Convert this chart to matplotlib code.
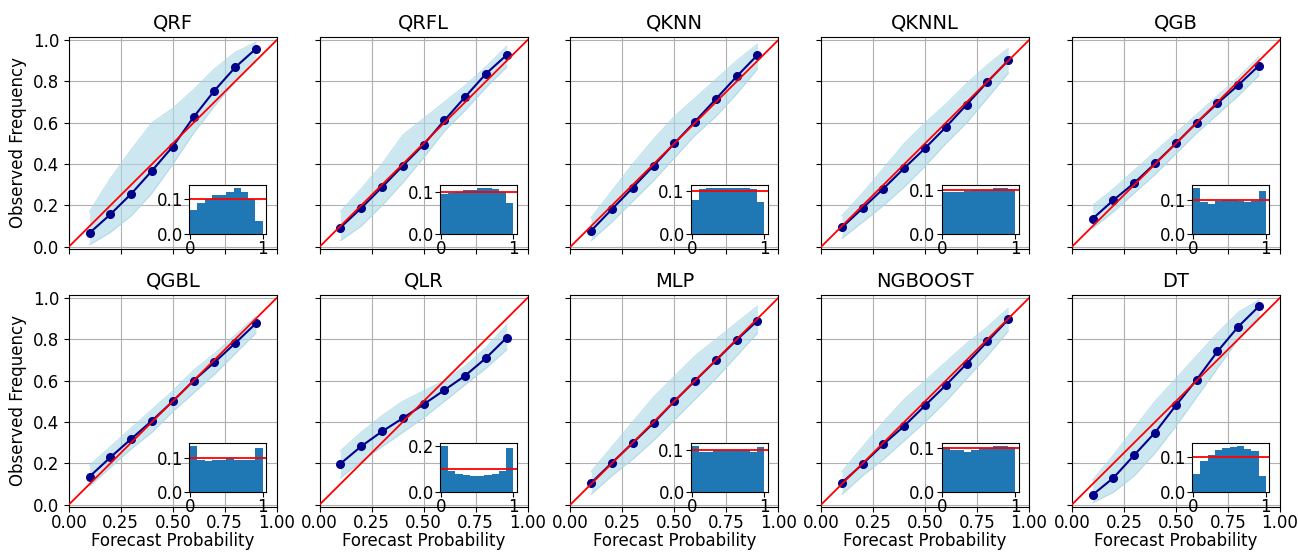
import numpy as np
import matplotlib
matplotlib.use("Agg")
import matplotlib.pyplot as plt

# modelos e probabilidades previstas (centro dos bins)
modelos = ["QRF", "QRFL", "QKNN", "QKNNL", "QGB",
           "QGBL", "QLR", "MLP", "NGBOOST", "DT"]
prob_prevista = [0.1, 0.2, 0.3, 0.4, 0.5, 0.6, 0.7, 0.8, 0.9]

# frequencia observada media (linha azul escura)
freq_obs = {
    "QRF":     [0.067, 0.157, 0.256, 0.368, 0.485, 0.627, 0.755, 0.868, 0.958],
    "QRFL":    [0.093, 0.187, 0.288, 0.392, 0.494, 0.611, 0.725, 0.837, 0.928],
    "QKNN":    [0.078, 0.182, 0.286, 0.392, 0.500, 0.606, 0.715, 0.824, 0.928],
    "QKNNL":   [0.094, 0.187, 0.282, 0.381, 0.477, 0.579, 0.688, 0.798, 0.902],
    "QGB":     [0.136, 0.226, 0.309, 0.403, 0.500, 0.600, 0.694, 0.782, 0.877],
    "QGBL":    [0.136, 0.229, 0.318, 0.406, 0.500, 0.600, 0.688, 0.781, 0.877],
    "QLR":     [0.198, 0.282, 0.354, 0.418, 0.485, 0.554, 0.624, 0.709, 0.808],
    "MLP":     [0.105, 0.203, 0.298, 0.395, 0.500, 0.600, 0.698, 0.797, 0.890],
    "NGBOOST": [0.106, 0.197, 0.293, 0.381, 0.480, 0.578, 0.682, 0.790, 0.896],
    "DT":      [0.048, 0.130, 0.240, 0.349, 0.480, 0.605, 0.741, 0.861, 0.960],
}

# limites do feixe de curvas individuais (azul claro)
faixa_sup = {
    "QRF":     [0.17, 0.33, 0.47, 0.60, 0.67, 0.76, 0.86, 0.94, 0.99],
    "QRFL":    [0.17, 0.28, 0.40, 0.54, 0.62, 0.70, 0.78, 0.87, 0.97],
    "QKNN":    [0.14, 0.27, 0.40, 0.52, 0.63, 0.72, 0.81, 0.90, 0.98],
    "QKNNL":   [0.15, 0.26, 0.38, 0.50, 0.60, 0.69, 0.79, 0.88, 0.96],
    "QGB":     [0.20, 0.28, 0.37, 0.46, 0.55, 0.64, 0.73, 0.82, 0.92],
    "QGBL":    [0.19, 0.28, 0.37, 0.46, 0.55, 0.65, 0.73, 0.82, 0.91],
    "QLR":     [0.26, 0.35, 0.43, 0.50, 0.55, 0.60, 0.67, 0.76, 0.87],
    "MLP":     [0.16, 0.28, 0.40, 0.52, 0.62, 0.72, 0.80, 0.88, 0.96],
    "NGBOOST": [0.16, 0.28, 0.40, 0.51, 0.60, 0.69, 0.78, 0.86, 0.95],
    "DT":      [0.12, 0.24, 0.37, 0.50, 0.61, 0.72, 0.83, 0.93, 0.99],
}
faixa_inf = {
    "QRF":     [0.01, 0.07, 0.15, 0.26, 0.40, 0.55, 0.68, 0.80, 0.90],
    "QRFL":    [0.03, 0.10, 0.20, 0.31, 0.43, 0.56, 0.66, 0.77, 0.87],
    "QKNN":    [0.03, 0.12, 0.22, 0.32, 0.43, 0.54, 0.63, 0.74, 0.86],
    "QKNNL":   [0.04, 0.12, 0.20, 0.29, 0.39, 0.50, 0.60, 0.72, 0.84],
    "QGB":     [0.09, 0.17, 0.26, 0.35, 0.45, 0.55, 0.64, 0.73, 0.83],
    "QGBL":    [0.09, 0.18, 0.27, 0.35, 0.45, 0.54, 0.63, 0.73, 0.83],
    "QLR":     [0.13, 0.21, 0.28, 0.35, 0.42, 0.50, 0.58, 0.66, 0.75],
    "MLP":     [0.05, 0.14, 0.22, 0.31, 0.41, 0.51, 0.61, 0.72, 0.83],
    "NGBOOST": [0.05, 0.14, 0.22, 0.31, 0.40, 0.50, 0.61, 0.72, 0.84],
    "DT":      [0.01, 0.06, 0.14, 0.25, 0.38, 0.52, 0.66, 0.80, 0.91],
}

# histogramas PIT (10 bins, frequencia relativa)
hist_pit = {
    "QRF":     [0.069, 0.088, 0.100, 0.111, 0.111, 0.119, 0.130, 0.119, 0.100, 0.038],
    "QRFL":    [0.095, 0.097, 0.100, 0.105, 0.105, 0.110, 0.110, 0.108, 0.100, 0.075],
    "QKNN":    [0.080, 0.105, 0.106, 0.107, 0.107, 0.107, 0.107, 0.106, 0.105, 0.075],
    "QKNNL":   [0.097, 0.097, 0.095, 0.098, 0.100, 0.100, 0.100, 0.105, 0.105, 0.103],
    "QGB":     [0.135, 0.095, 0.088, 0.097, 0.100, 0.100, 0.097, 0.093, 0.097, 0.127],
    "QGBL":    [0.135, 0.095, 0.090, 0.093, 0.095, 0.100, 0.095, 0.095, 0.095, 0.130],
    "QLR":     [0.200, 0.090, 0.079, 0.072, 0.069, 0.069, 0.072, 0.079, 0.090, 0.193],
    "MLP":     [0.110, 0.095, 0.095, 0.100, 0.100, 0.100, 0.100, 0.100, 0.095, 0.107],
    "NGBOOST": [0.103, 0.095, 0.095, 0.092, 0.095, 0.100, 0.100, 0.105, 0.105, 0.103],
    "DT":      [0.050, 0.088, 0.107, 0.120, 0.127, 0.130, 0.132, 0.123, 0.118, 0.045],
}
bordas_bins = np.linspace(0, 1, 11)

plt.rcParams['font.size'] = 12

fig, axes = plt.subplots(2, 5, figsize=(12.98, 5.52), dpi=100, sharex=True, sharey=True)
fig.subplots_adjust(left=0.053, right=0.986, top=0.933, bottom=0.082, wspace=0.206, hspace=0.217)

for ax, nome in zip(axes.flat, modelos):
    # feixe de curvas individuais
    ax.fill_between(prob_prevista, faixa_inf[nome], faixa_sup[nome],
                    color='lightblue', alpha=0.6, linewidth=0, zorder=2)
    ax.plot(prob_prevista, faixa_sup[nome], color='lightblue', alpha=0.8, lw=0.8, zorder=2)
    ax.plot(prob_prevista, faixa_inf[nome], color='lightblue', alpha=0.8, lw=0.8, zorder=2)
    # curva media
    ax.plot(prob_prevista, freq_obs[nome], color='darkblue', marker='o', markersize=5.5,
            lw=1.5, zorder=3)
    # diagonal perfeita
    ax.plot([0, 1], [0, 1], color='red', lw=1.3, zorder=4)
    ax.set_xlim(0, 1)
    ax.set_ylim(-0.01, 1.015)
    ax.set_xticks([0, 0.25, 0.5, 0.75, 1.0])
    ax.set_yticks([0, 0.2, 0.4, 0.6, 0.8, 1.0])
    ax.grid(True, color='#b0b0b0', lw=0.8)
    ax.set_axisbelow(True)
    ax.set_title(nome, fontsize=14)

    # histograma PIT no canto inferior direito
    ins = ax.inset_axes([0.58, 0.07, 0.37, 0.23])
    ins.stairs(hist_pit[nome], bordas_bins, fill=True, color='#1f77b4')
    ins.axhline(0.1, color='red', lw=1.3)
    ins.set_xlim(-0.01, 1.05)
    ins.set_ylim(0, max(hist_pit[nome]) * 1.06)
    ins.set_xticks([0, 1])
    ins.set_xticklabels(['0', '1'])
    if max(hist_pit[nome]) > 0.15:
        ins.set_yticks([0.0, 0.2])
    else:
        ins.set_yticks([0.0, 0.1])
    ins.tick_params(labelsize=12, pad=1)

for ax in axes[1]:
    ax.set_xlabel('Forecast Probability', labelpad=0)
    ax.tick_params(axis='x', pad=2)
for ax in axes[:, 0]:
    ax.set_ylabel('Observed Frequency')

fig.savefig('out.png', dpi=100)
